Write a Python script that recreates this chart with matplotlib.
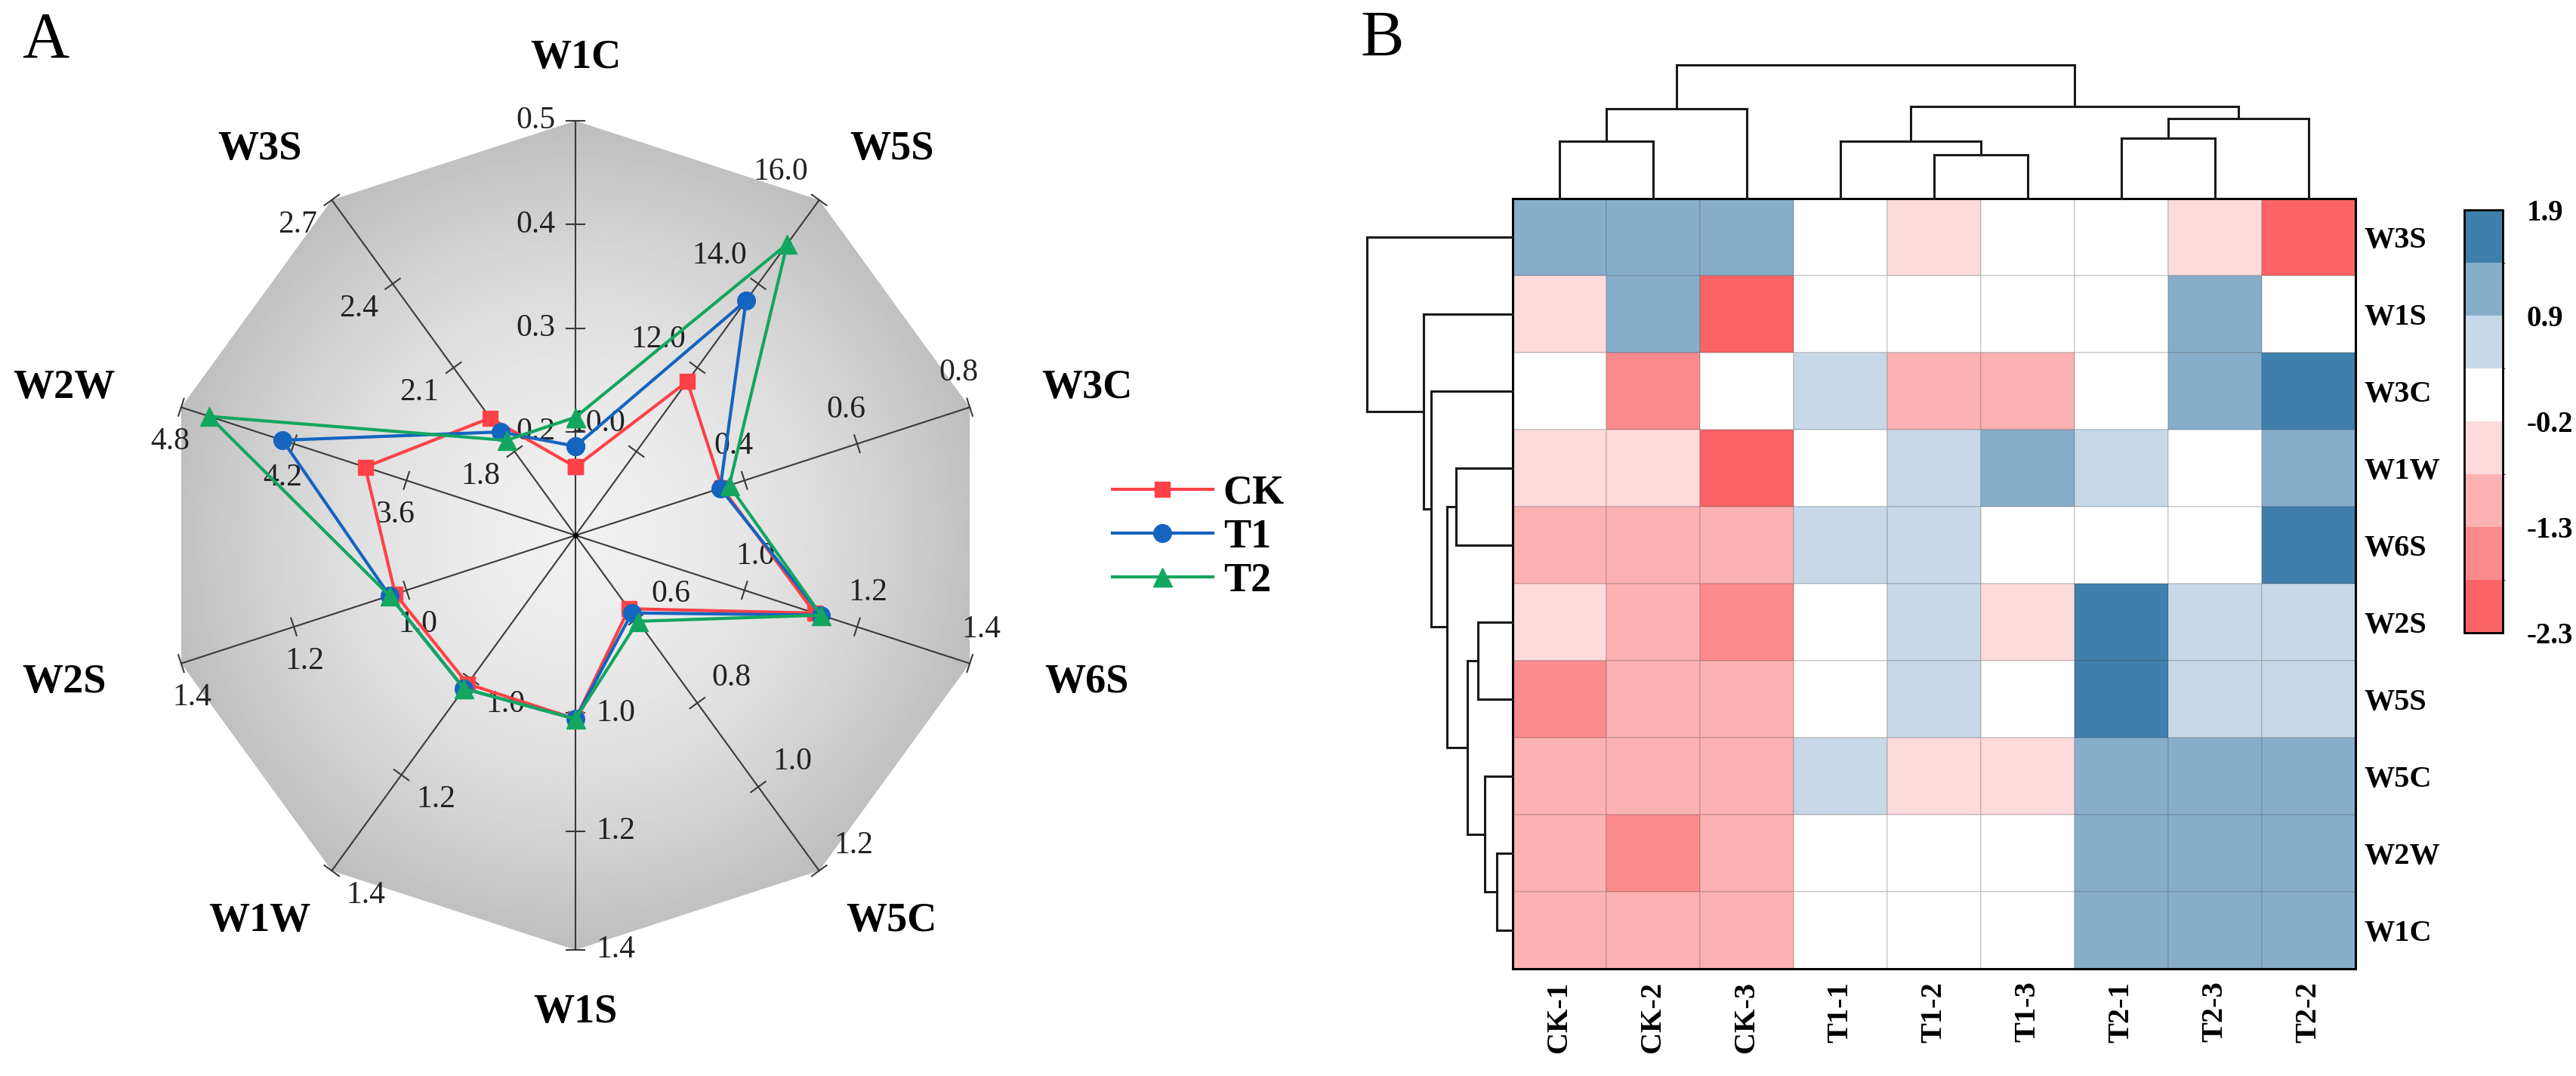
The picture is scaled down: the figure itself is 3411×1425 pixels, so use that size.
import numpy as np
import matplotlib
matplotlib.use("Agg")
import matplotlib.pyplot as plt
from matplotlib.patches import Polygon
from matplotlib.colors import ListedColormap, BoundaryNorm
from matplotlib.cm import ScalarMappable

plt.rcParams['font.family'] = ['Liberation Serif', 'DejaVu Serif']

# %% Radar data (panel A)
sensors = ['W1C', 'W5S', 'W3C', 'W6S', 'W5C', 'W1S', 'W1W', 'W2S', 'W2W', 'W3S']
axis_min = [0.1, 8.0, 0.1, 0.7, 0.4, 0.7, 0.7, 0.7, 2.7, 1.5]
axis_max = [0.5, 16.0, 0.8, 1.4, 1.2, 1.4, 1.4, 1.4, 4.8, 2.7]
axis_ticks = [[0.2, 0.3, 0.4, 0.5], [10.0, 12.0, 14.0, 16.0], [0.4, 0.6, 0.8],
              [1.0, 1.2, 1.4], [0.6, 0.8, 1.0, 1.2], [1.0, 1.2, 1.4],
              [1.0, 1.2, 1.4], [1.0, 1.2, 1.4], [3.6, 4.2, 4.8],
              [1.8, 2.1, 2.4, 2.7]]
ck = [0.166, 11.67, 0.36, 1.125, 0.575, 1.01, 1.01, 1.02, 3.82, 1.92]
t1 = [0.186, 13.6, 0.357, 1.136, 0.585, 1.01, 1.02, 1.03, 4.26, 1.87]
t2 = [0.214, 14.95, 0.373, 1.136, 0.605, 1.01, 1.02, 1.03, 4.65, 1.84]

# %% Heatmap data (panel B)
samples = ['CK-1', 'CK-2', 'CK-3', 'T1-1', 'T1-2', 'T1-3', 'T2-1', 'T2-3', 'T2-2']
features = ['W3S', 'W1S', 'W3C', 'W1W', 'W6S', 'W2S', 'W5S', 'W5C', 'W2W', 'W1C']
zscore = np.array([
    [1.1, 1.1, 1.1, 0.1, -0.45, 0.05, 0.1, -0.45, -2.0],
    [-0.45, 1.1, -2.0, 0.1, 0.05, 0.1, 0.05, 1.1, 0.1],
    [0.05, -1.5, 0.05, 0.6, -1.0, -1.0, 0.05, 1.1, 1.6],
    [-0.45, -0.45, -2.0, 0.05, 0.6, 1.1, 0.6, 0.05, 1.1],
    [-1.0, -1.0, -1.0, 0.6, 0.6, 0.05, 0.05, 0.05, 1.6],
    [-0.45, -1.0, -1.5, 0.05, 0.6, -0.45, 1.6, 0.6, 0.6],
    [-1.5, -1.0, -1.0, 0.05, 0.6, 0.05, 1.6, 0.6, 0.6],
    [-1.0, -1.0, -1.0, 0.6, -0.45, -0.45, 1.1, 1.1, 1.1],
    [-1.0, -1.5, -1.0, 0.05, 0.05, 0.05, 1.1, 1.1, 1.1],
    [-1.0, -1.0, -1.0, 0.05, 0.05, 0.05, 1.1, 1.1, 1.1],
])
cbar_labels = ['-2.3', '-1.3', '-0.2', '0.9', '1.9']
bin_colors = ['#fc6366', '#fb8a8c', '#fcb1b3', '#fddadb', '#ffffff',
              '#c7d9e9', '#86aecb', '#3e7fad']

# cluster merges: (left, right, height), leaves in display order
col_merges = [(0, 1, 0.43), (9, 2, 0.67), (4, 5, 0.33), (3, 11, 0.43),
              (6, 7, 0.45), (13, 8, 0.60), (12, 14, 0.69), (10, 15, 1.0)]
row_merges = [(8, 9, 0.11), (7, 10, 0.19), (5, 6, 0.24), (12, 11, 0.31),
              (3, 4, 0.39), (14, 13, 0.45), (2, 15, 0.56), (1, 16, 0.61),
              (0, 17, 1.0)]

W, H = 3411, 1425
fig = plt.figure(figsize=(W / 100, H / 100), dpi=100)

# %% Panel A: radar
cx, cy, R = 762, 709, 549
axr = fig.add_axes([0, 0, 1560 / W, 1])
axr.set_xlim(-cx / R, (1560 - cx) / R)
axr.set_ylim(-(H - cy) / R, cy / R)
axr.axis('off')

ang = np.deg2rad(90 - 36 * np.arange(10))
vx, vy = np.cos(ang), np.sin(ang)

deca = Polygon(np.c_[vx, vy], closed=True, facecolor='none', edgecolor='none')
axr.add_patch(deca)
g = np.linspace(-1, 1, 600)
gx, gy = np.meshgrid(g, g)
shade = 0.94 - 0.2 * np.clip(np.hypot(gx, gy), 0, 1) ** 1.8
im = axr.imshow(shade, cmap='gray', vmin=0, vmax=1, extent=(-1, 1, -1, 1),
                origin='lower', interpolation='bilinear', zorder=0)
im.set_clip_path(deca)

amin = np.array(axis_min)
amax = np.array(axis_max)
for k in range(10):
    axr.plot([0, vx[k]], [0, vy[k]], color='#3a3a3a', lw=1.5, zorder=1)
    nx, ny = -vy[k], vx[k]
    for t in axis_ticks[k]:
        f = (t - amin[k]) / (amax[k] - amin[k])
        px, py = f * vx[k], f * vy[k]
        h = 12 / R
        axr.plot([px - h * nx, px + h * nx], [py - h * ny, py + h * ny],
                 color='#3a3a3a', lw=1.5, zorder=1)
        lab = f"{t:.1f}"
        off = (26 + 9 * len(lab) * abs(nx) + 14 * abs(ny)) / R
        axr.text(px + off * nx, py + off * ny, lab, ha='center', va='center',
                 fontsize=30, color='#222222', zorder=2)
    axr.text(712 / R * vx[k], 632 / R * vy[k], sensors[k], ha='center',
             va='center', fontsize=39, fontweight='bold')
axr.plot(0, 0, 'o', color='black', ms=4, zorder=2)

series = [('CK', ck, '#fe4146', 's', 15), ('T1', t1, '#1464c0', 'o', 17),
          ('T2', t2, '#12a660', '^', 18)]
for name, vals, col, mk, ms in series:
    f = (np.array(vals) - amin) / (amax - amin)
    xs = np.r_[f * vx, f[0] * vx[0]]
    ys = np.r_[f * vy, f[0] * vy[0]]
    axr.plot(xs, ys, color=col, lw=3, marker=mk, ms=ms, mec=col,
             label=name, zorder=3)

fig.legend(*axr.get_legend_handles_labels(), loc='center left',
           bbox_to_anchor=(1473 / W, 1 - 712 / H), frameon=False,
           prop={'weight': 'bold', 'size': 39}, handlelength=2.45,
           handletextpad=0.26, labelspacing=0.15, borderpad=0,
           borderaxespad=0)

fig.text(29 / W, 1 - 55 / H, 'A', fontsize=62, ha='left', va='center')
fig.text(1802 / W, 1 - 53 / H, 'B', fontsize=62, ha='left', va='center')

# %% Panel B: clustered heatmap
cmap = ListedColormap(bin_colors)
bounds = np.linspace(-2.3, 1.9, 9)
norm = BoundaryNorm(bounds, cmap.N)

hx0, hy0, hw, hh = 2003, 263, 1116, 1020
axh = fig.add_axes([hx0 / W, 1 - (hy0 + hh) / H, hw / W, hh / H])
axh.pcolormesh(zscore, cmap=cmap, norm=norm,
               edgecolors=(0.25, 0.25, 0.25, 0.15), linewidth=1.2)
axh.set_xlim(0, len(samples))
axh.set_ylim(len(features), 0)
axh.set_xticks(np.arange(len(samples)) + 0.5, samples, rotation=90,
               fontsize=29, fontweight='bold')
axh.set_yticks(np.arange(len(features)) + 0.5, features, fontsize=29,
               fontweight='bold')
axh.yaxis.tick_right()
axh.tick_params(axis='x', length=0, pad=12)
axh.tick_params(axis='y', length=0, pad=8)
for s in axh.spines.values():
    s.set_linewidth(2.2)


def draw_dendrogram(ax, merges, n, orient):
    pos = {i: i + 0.5 for i in range(n)}
    hgt = {i: 0.0 for i in range(n)}
    for j, (a, b, h) in enumerate(merges):
        segs = [([pos[a], pos[a]], [hgt[a], h]),
                ([pos[b], pos[b]], [hgt[b], h]),
                ([pos[a], pos[b]], [h, h])]
        for p, q in segs:
            if orient == 'top':
                ax.plot(p, q, color='#1a1a1a', lw=2.2, clip_on=False)
            else:
                ax.plot(q, p, color='#1a1a1a', lw=2.2, clip_on=False)
        pos[n + j] = (pos[a] + pos[b]) / 2
        hgt[n + j] = h


axt = fig.add_axes([hx0 / W, 1 - hy0 / H, hw / W, 203 / H])
draw_dendrogram(axt, col_merges, len(samples), 'top')
axt.set_xlim(0, len(samples))
axt.set_ylim(0, 203 / 177)
axt.axis('off')

axl = fig.add_axes([1800 / W, 1 - (hy0 + hh) / H, 203 / W, hh / H])
draw_dendrogram(axl, row_merges, len(features), 'left')
axl.set_ylim(len(features), 0)
axl.set_xlim(203 / 193, 0)
axl.axis('off')

axc = fig.add_axes([3263 / W, 1 - 838 / H, 51 / W, 560 / H])
cb = fig.colorbar(ScalarMappable(norm=norm, cmap=cmap), cax=axc,
                  ticks=bounds[::2])
cb.set_ticklabels(cbar_labels)
cb.outline.set_linewidth(2)
axc.tick_params(length=0, pad=23, labelsize=28)
for t in axc.get_yticklabels():
    t.set_fontweight('bold')

fig.savefig('out.png', dpi=100)
